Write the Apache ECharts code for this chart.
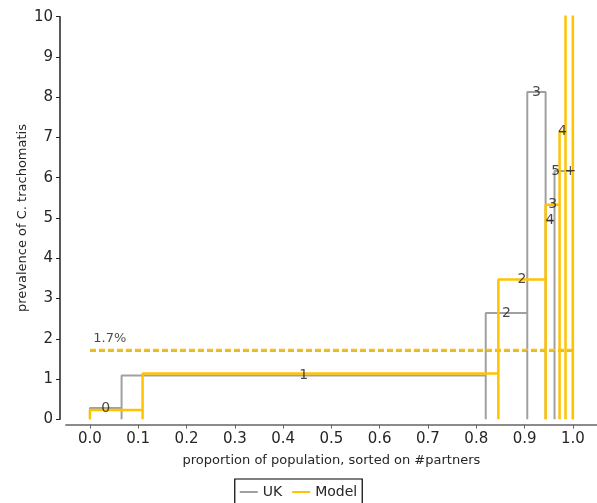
<!DOCTYPE html>
<html>
<head>
<meta charset="utf-8">
<script src="https://cdn.jsdelivr.net/npm/echarts@6/dist/echarts.min.js"></script>
<style>
html,body{margin:0;padding:0;background:#fff;}
#chart{width:597px;height:503px;}
</style>
</head>
<body>
<div id="chart"></div>
<script>
// ---- data ----
var categories = ['0', '1', '2', '3', '4', '5 +'];
var ukEdges = [0, 0.0655, 0.8196, 0.9056, 0.9436, 0.962, 1.0];
var ukPrev = [0.28, 1.09, 2.64, 8.13, 4.94, 6.17];
var modelEdges = [0, 0.109, 0.8457, 0.9436, 0.9725, 0.9848, 1.0];
var modelPrev = [0.23, 1.14, 3.47, 5.33, 7.14, 14.0];
var ukMean = 1.70;
var modelMean = 1.73;
var meanLabel = '1.7%';
var xTicks = [0, 0.1, 0.2, 0.3, 0.4, 0.5, 0.6, 0.7, 0.8, 0.9, 1.0];
var ukLabelShown = [true, true, true, true, true, true];
var modelLabelShown = [false, false, true, true, true, false];

// ---- build outlines ----
function outline(edges, vals) {
  var pts = [];
  for (var i = 0; i < vals.length; i++) {
    pts.push([edges[i], 0]);
    pts.push([edges[i], vals[i]]);
    pts.push([edges[i + 1], vals[i]]);
    pts.push([edges[i + 1], 0]);
  }
  return pts;
}
function labels(edges, vals, shown) {
  var out = [];
  for (var i = 0; i < vals.length; i++) {
    if (!shown[i]) continue;
    out.push({ value: [(edges[i] + edges[i + 1]) / 2, vals[i]], name: categories[i] });
  }
  return out;
}

var GRAY = '#a0a0a0';
var YELLOW = '#ffc300';
var FONT = 'DejaVu Sans';
var TXT = '#262626';

var chart = echarts.init(document.getElementById('chart'), null, { renderer: 'canvas' });
chart.setOption({
  animation: false,
  textStyle: { fontFamily: FONT },
  grid: { left: 65.8, top: 16.7, width: 532.7, height: 402.6, containLabel: false },
  legend: {
    data: [
      { name: 'UK', icon: 'rect' },
      { name: 'Model', icon: 'rect' }
    ],
    top: 479,
    left: 'center',
    itemWidth: 18,
    itemHeight: 2,
    itemGap: 10,
    padding: [6, 5, 12, 5],
    borderColor: '#000',
    borderWidth: 1.2,
    borderRadius: 0,
    textStyle: { fontFamily: FONT, fontSize: 14, color: TXT }
  },
  xAxis: {
    type: 'value',
    min: -0.05,
    max: 1.05,
    offset: 5.3,
    name: 'proportion of population, sorted on #partners',
    nameLocation: 'middle',
    nameGap: 30,
    nameMoveOverlap: false,
    nameTextStyle: { fontFamily: FONT, fontSize: 13, color: TXT },
    axisLine: { show: true, onZero: false, lineStyle: { color: '#666', width: 1.5 } },
    axisTick: { show: true, customValues: xTicks, length: 4, lineStyle: { color: '#666' } },
    axisLabel: {
      customValues: xTicks,
      formatter: function (v) { return v.toFixed(1); },
      fontFamily: FONT, fontSize: 15, color: TXT, margin: 7
    },
    splitLine: { show: false }
  },
  yAxis: {
    type: 'value',
    min: 0,
    max: 10,
    interval: 1,
    offset: 5.8,
    name: 'prevalence of C. trachomatis',
    nameLocation: 'middle',
    nameGap: 31,
    nameMoveOverlap: false,
    nameTextStyle: { fontFamily: FONT, fontSize: 13, color: TXT },
    axisLine: { show: true, onZero: false, lineStyle: { color: '#222', width: 1.5 } },
    axisTick: { show: true, length: 4, lineStyle: { color: '#222' } },
    axisLabel: { fontFamily: FONT, fontSize: 15, color: TXT, margin: 7 },
    splitLine: { show: false }
  },
  series: [
    {
      name: 'UK', type: 'line', data: outline(ukEdges, ukPrev),
      showSymbol: false, symbol: 'none', clip: true, z: 2,
      lineStyle: { color: GRAY, width: 2 }, itemStyle: { color: GRAY }
    },
    {
      name: 'Model', type: 'line', data: outline(modelEdges, modelPrev),
      showSymbol: false, symbol: 'none', clip: true, z: 3,
      lineStyle: { color: YELLOW, width: 2.5 }, itemStyle: { color: YELLOW }
    },
    {
      name: 'UK mean', type: 'line', data: [[0, ukMean], [1, ukMean]],
      showSymbol: false, symbol: 'none', z: 2,
      lineStyle: { color: GRAY, width: 2, type: [6, 3] }
    },
    {
      name: 'Model mean', type: 'line', data: [[0, modelMean], [1, modelMean]],
      showSymbol: false, symbol: 'none', z: 3,
      lineStyle: { color: YELLOW, width: 2, type: [6, 3] }
    },
    {
      name: 'labels', type: 'scatter', symbolSize: 0, z: 5,
      data: labels(ukEdges, ukPrev, ukLabelShown).concat(labels(modelEdges, modelPrev, modelLabelShown)),
      label: {
        show: true, position: 'inside',
        formatter: function (p) { return p.name; },
        fontFamily: FONT, fontSize: 14, color: '#1a1a1a'
      }
    },
    {
      name: 'meanLabel', type: 'scatter', symbolSize: 0, z: 5,
      data: [{ value: [0.041, modelMean], name: meanLabel }],
      label: {
        show: true, position: 'inside', offset: [0, -11],
        formatter: function (p) { return p.name; },
        fontFamily: FONT, fontSize: 13, color: '#1a1a1a'
      }
    }
  ]
});
</script>
</body>
</html>
